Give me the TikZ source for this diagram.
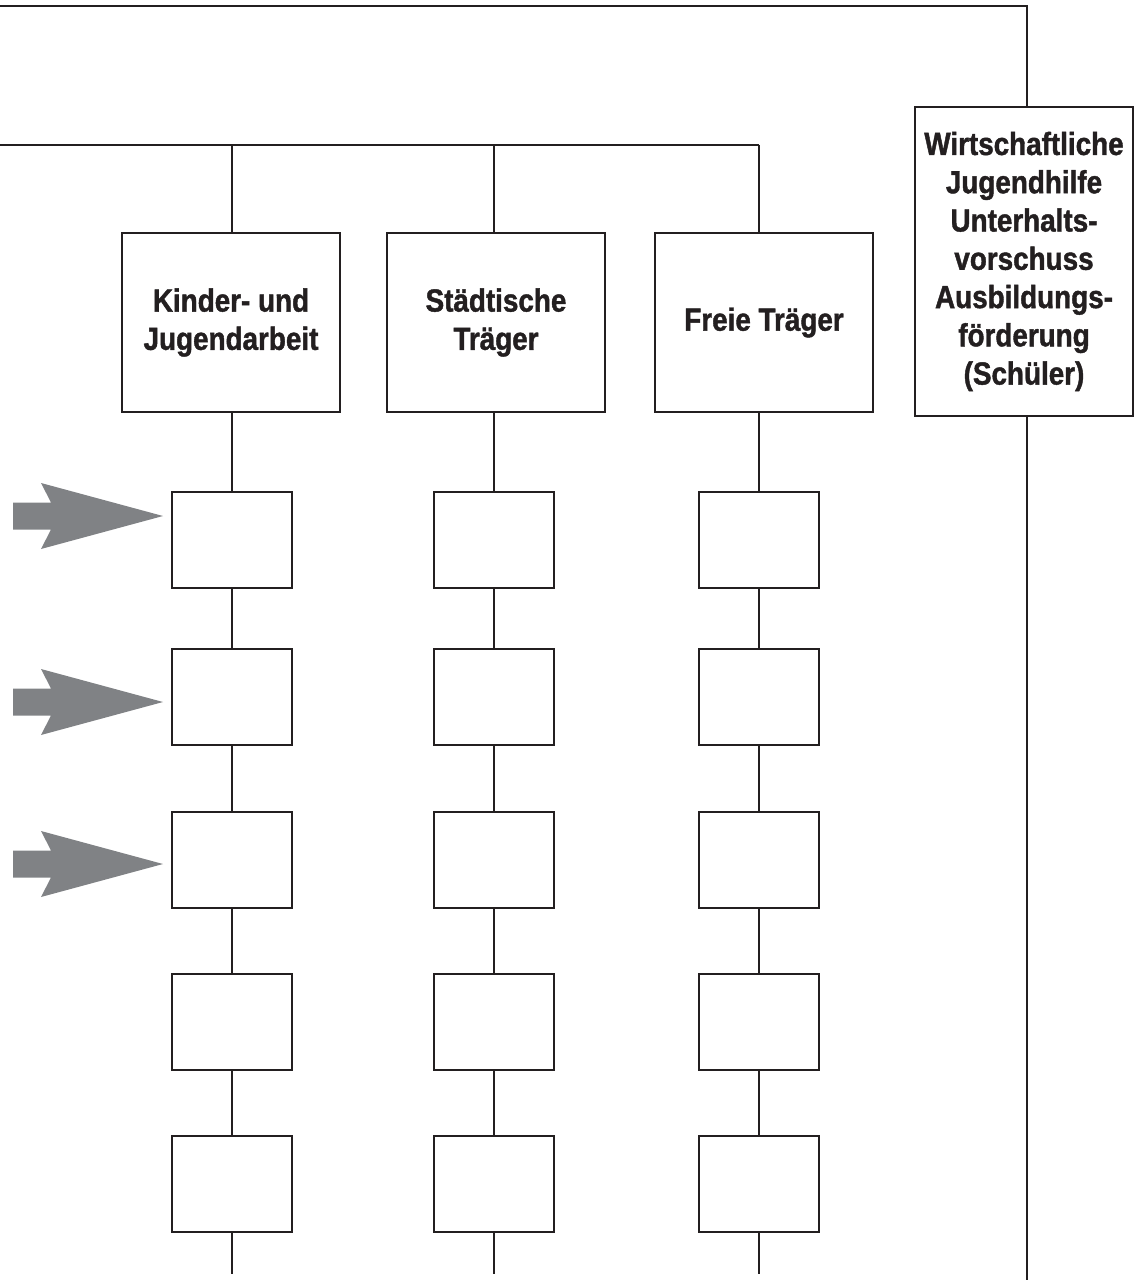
\documentclass[tikz,border=0pt]{standalone}
\usepackage{fontspec}
\setmainfont[FakeStretch=0.87, BoldFeatures={FakeBold=1.3}]{Liberation Sans}
\definecolor{arrowgray}{HTML}{808285}
\definecolor{linecol}{HTML}{231F20}
\begin{document}
\begin{tikzpicture}[x=0.75pt,y=-0.75pt,
  line width=2.2pt, draw=linecol,
  every node/.style={draw=linecol, line width=2.2pt, inner sep=0pt, outer sep=0pt, fill=white},
  headbox/.style={minimum width=163.5pt, minimum height=134.25pt, align=center,
    font=\fontsize{24}{28.7}\selectfont\bfseries, text=linecol},
  sidebox/.style={minimum width=163.5pt, minimum height=231.75pt, align=center,
    font=\fontsize{24}{28.7}\selectfont\bfseries, text=linecol},
  smallbox/.style={minimum width=90pt, minimum height=72pt},
  bigarrow/.pic={\fill[arrowgray] (-150,-13.5) -- (-112,-13.5) -- (-122,-33) -- (0,0)
      -- (-122,33) -- (-112,13.5) -- (-150,13.5) -- cycle;}
]
\useasboundingbox (0,0) rectangle (1139,1280);

% header boxes
\node[headbox] (h1) at (231,322.5) {Kinder- und\\Jugendarbeit};
\node[headbox] (h2) at (496,322.5) {Städtische\\Träger};
\node[headbox] (h3) at (764,322.5) {Freie Träger};
\node[sidebox] (rb) at (1024,261.5) {Wirtschaftliche\\Jugendhilfe\\Unterhalts-\\vorschuss\\Ausbildungs-\\förderung\\(Schüler)};

% small boxes
\foreach \c/\x in {1/232,2/494,3/759}{
  \foreach \r/\y in {1/540,2/697,3/860,4/1022,5/1184}{
    \node[smallbox] (s\c\r) at (\x,\y) {};
  }
}

% coordinates
\coordinate (tl) at (0,6);
\coordinate (b2l) at (0,145);
\coordinate (j1) at (232,145);
\coordinate (j2) at (494,145);
\coordinate (j3) at (759,145);
\coordinate (e1) at (232,1274);
\coordinate (e2) at (494,1274);
\coordinate (e3) at (759,1274);
\coordinate (eR) at (1027,1280);

% connectors
\draw (tl) -| (rb.north -| eR);
\draw (b2l) -- (j3);
\draw (j1) -- (j1 |- h1.north);
\draw (j2) -- (j2 |- h2.north);
\draw (j3) -- (j3 |- h3.north);
\draw (rb.south -| eR) -- (eR);
\draw (h1.south -| j1) -- (s11) -- (s12) -- (s13) -- (s14) -- (s15) -- (e1);
\draw (h2.south -| j2) -- (s21) -- (s22) -- (s23) -- (s24) -- (s25) -- (e2);
\draw (h3.south -| j3) -- (s31) -- (s32) -- (s33) -- (s34) -- (s35) -- (e3);

% gray arrows
\pic at (163,516) {bigarrow};
\pic at (163,702) {bigarrow};
\pic at (163,864) {bigarrow};
\end{tikzpicture}
\end{document}
